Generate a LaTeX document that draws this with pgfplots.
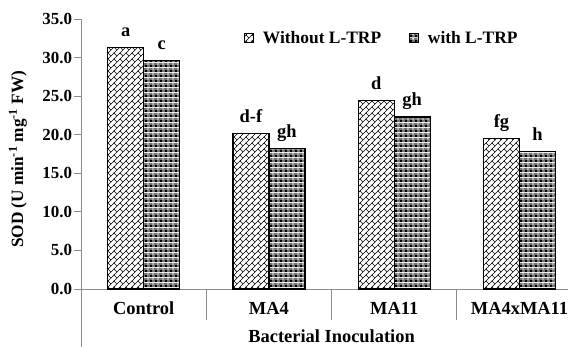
\documentclass[border=0pt]{standalone}
\usepackage{fontspec}
\setmainfont{Liberation Serif}
\usepackage{pgfplots}
\pgfplotsset{compat=1.18}
\usetikzlibrary{patterns}

\pgfdeclarepatternformonly{diagbrick}{\pgfpoint{-1bp}{-1bp}}{\pgfpoint{7bp}{7bp}}{\pgfpoint{6bp}{6bp}}{%
  \pgfsetlinewidth{0.55bp}%
  \pgfpathmoveto{\pgfpoint{-0.5bp}{-0.5bp}}\pgfpathlineto{\pgfpoint{6.5bp}{6.5bp}}%
  \pgfpathmoveto{\pgfpoint{3bp}{3bp}}\pgfpathlineto{\pgfpoint{0bp}{6bp}}%
  \pgfusepath{stroke}}

\pgfdeclarepatterninherentlycolored{checkgrid}{\pgfpointorigin}{\pgfpoint{5bp}{5bp}}{\pgfpoint{5bp}{5bp}}{%
  \pgfsetfillcolor{black!55}%
  \pgfpathrectangle{\pgfpointorigin}{\pgfpoint{5bp}{5bp}}\pgfusepath{fill}%
  \pgfsetfillcolor{black}%
  \pgfpathrectangle{\pgfpointorigin}{\pgfpoint{2.2bp}{2.2bp}}\pgfusepath{fill}%
  \pgfsetfillcolor{white}%
  \pgfpathrectangle{\pgfpoint{2.8bp}{2.8bp}}{\pgfpoint{1.6bp}{1.6bp}}\pgfusepath{fill}}

\newcommand{\lblfont}{\fontsize{17}{20}\selectfont\bfseries}
\newcommand{\catfont}{\fontsize{18.5}{22}\selectfont\bfseries}
\newcommand{\legfont}{\fontsize{17.5}{21}\selectfont\bfseries}
\newcommand{\ylabfont}{\fontsize{17.3}{21}\selectfont\bfseries}

\begin{document}
\begin{tikzpicture}
\begin{axis}[name=ax,
  width=487bp, height=270bp, scale only axis,
  xmin=-0.5, xmax=3.387, ymin=0, ymax=35,
  ybar=0pt, bar width=36bp,
  axis lines=left,
  axis line style={-, draw=black!45, line width=0.8bp},
  xtick={0,1,2,3}, xticklabels={Control,MA4,MA11,MA4xMA11},
  x tick style={draw=none},
  xticklabel style={anchor=base, yshift=-18bp, font=\catfont},
  ytick={0,5,...,35},
  y tick style={draw=black!45, line width=0.8bp},
  tick align=outside, major tick length=7bp,
  yticklabel style={font=\lblfont, xshift=1.5bp, /pgf/number format/.cd, fixed, fixed zerofill, precision=1, assume math mode=true},
  clip=false,
  point meta=explicit symbolic,
  nodes near coords,
  nodes near coords style={anchor=base, inner sep=0pt, yshift=11bp, font=\catfont},
  legend columns=2,
  legend cell align=left,
  legend style={at={(rel axis cs:0.3347,0.9296)}, anchor=west, draw=none, fill=none,
    inner sep=0pt, font=\legfont, nodes={inner sep=0pt},
    /tikz/every odd column/.append style={column sep=9bp},
    /tikz/every even column/.append style={column sep=28bp}},
  legend image code/.code={\draw[#1, line width=0.7bp] (0bp,-4.5bp) rectangle (9bp,4.5bp);},
]
\addplot[draw=black, line width=1.3bp, pattern=diagbrick, pattern color=black]
  coordinates {(0,31.3) [a] (1,20.2) [d-f] (2,24.4) [d] (3,19.5) [fg]};
\addlegendentry{Without L-TRP}
\addplot[draw=black, line width=1.3bp, pattern=checkgrid]
  coordinates {(0,29.6) [c] (1,18.2) [gh] (2,22.3) [gh] (3,17.8) [h]};
\addlegendentry{with L-TRP}

\draw[black!45, line width=0.8bp] (axis cs:-0.5,0) -- ++(0pt,-58bp);
\pgfplotsinvokeforeach{0.5,1.5,2.5}{\draw[black!45, line width=0.8bp] (axis cs:#1,0) -- ++(0pt,-31bp);}
\node[font=\catfont, anchor=base] at (axis cs:1.5,0) [yshift=-53bp] {Bacterial Inoculation};
\node[font=\ylabfont, anchor=center, xshift=-63bp, rotate=90] at (rel axis cs:0,0.48) {SOD (U min\textsuperscript{-1} mg\textsuperscript{-1} FW)};
\end{axis}
\pgfresetboundingbox
\path[use as bounding box] (ax.south west) ++(-81bp,-58bp) rectangle ++(568bp,347bp);
\end{tikzpicture}
\end{document}
